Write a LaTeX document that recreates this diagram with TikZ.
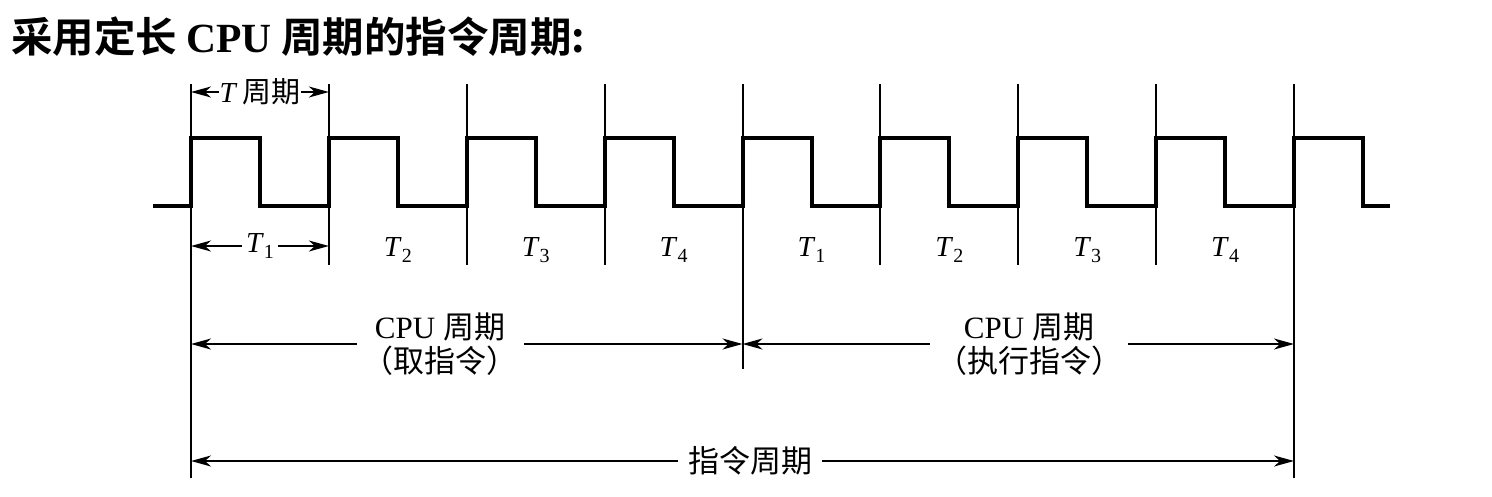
\documentclass[tikz,border=0pt]{standalone}
\usepackage{fontspec}
\setmainfont{Liberation Serif}
\newfontfamily\cjk{Noto Sans CJK SC}
\newfontfamily\cjkb{Noto Sans CJK SC}[BoldFont={* Bold}]
\usetikzlibrary{arrows.meta}
\tikzset{
  wave/.style={line width=4pt, line join=miter},
  guide/.style={line width=2pt},
  dim/.style={line width=1.8pt, {Stealth[length=20pt,width=11pt,inset=6pt]}-{Stealth[length=20pt,width=11pt,inset=6pt]}},
  dimlab/.style={fill=white, inner sep=4pt, font=\fontsize{29}{32}\selectfont},
  tlab/.style={inner sep=0pt, font=\fontsize{29}{32}\selectfont},
  cpulab/.style={fill=white, inner sep=6pt, align=center, font=\fontsize{31}{34}\selectfont},
}
\begin{document}
\begin{tikzpicture}[x=1pt,y=-1pt]
\useasboundingbox (0,0) rectangle (1492,496);
% title
\node[anchor=west, inner sep=0pt, font=\fontsize{41.5}{44}\selectfont\bfseries] (title) at (11,37)
  {\cjkb\bfseries 采用定长 {\rmfamily\bfseries CPU} 周期的指令周期:};
% edge positions
\foreach \k in {0,...,8} {
  \coordinate (r\k) at ({191+137.875*\k},0);
}
% waveform
\draw[wave] (153,206)
  \foreach \k in {0,...,8} {
    -- ({191+137.875*\k},206) -- ({191+137.875*\k},138) -- ({260+137.875*\k},138) -- ({260+137.875*\k},206)
  } -- (1390,206);
% guide lines
\draw[guide] (r0 |- 0,84) coordinate (g0t) -- (r0 |- 0,478) coordinate (g0b);
\foreach \k in {1,2,3,5,6,7} {
  \draw[guide] (r\k |- 0,84) coordinate (g\k t) -- (r\k |- 0,265) coordinate (g\k b);
}
\draw[guide] (r4 |- 0,84) coordinate (g4t) -- (r4 |- 0,369) coordinate (g4b);
\draw[guide] (r8 |- 0,84) coordinate (g8t) -- (r8 |- 0,478) coordinate (g8b);
% T period
\coordinate (ta) at (r0 |- 0,92);
\coordinate (tb) at (r1 |- 0,92);
\draw[dim] (ta) -- node[dimlab, inner sep=1pt] (tper) {\textit{T}\,{\cjk 周期}} (tb);
% T1 arrow
\coordinate (t1a) at (r0 |- 0,246);
\coordinate (t1b) at (r1 |- 0,246);
\draw[dim] (t1a) -- node[dimlab, inner sep=4pt] (t1lab) {\textit{T}\raisebox{-6pt}{\fontsize{20}{21}\selectfont 1}} (t1b);
% T labels
\foreach \k/\n in {1/2,2/3,3/4,4/1,5/2,6/3,7/4} {
  \node[tlab] (tl\k) at ({260+137.875*\k},250) {\textit{T}\raisebox{-6pt}{\fontsize{20}{21}\selectfont \n}};
}
% CPU cycles
\coordinate (c1a) at (r0 |- 0,344);
\coordinate (c1m) at (r4 |- 0,344);
\coordinate (c2b) at (r8 |- 0,344);
\draw[dim] (c1a) -- (c1m);
\node[cpulab] (cpu1) at (440,344) {CPU {\cjk 周期}\\{\cjk （取指令）}};
\draw[dim] (c1m) -- (c2b);
\node[cpulab] (cpu2) at (1029,344) {CPU {\cjk 周期}\\{\cjk （执行指令）}};
% instruction cycle
\coordinate (ia) at (r0 |- 0,461);
\coordinate (ib) at (r8 |- 0,461);
\draw[dim] (ia) -- (ib);
\node[cpulab, inner sep=10pt] (instr) at (750,461) {\cjk 指令周期};
\end{tikzpicture}
\end{document}
